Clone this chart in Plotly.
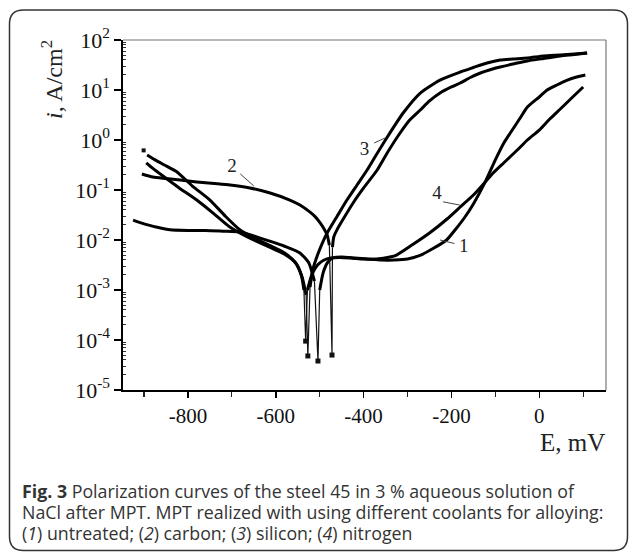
import plotly.graph_objects as go

# ---------------- data (E in mV, i in A/cm^2) ----------------
# Curve 1 - untreated
c1_cath_E = [-925, -900, -870, -841, -800, -760, -720, -682, -650, -614, -580, -545, -525, -512]
c1_cath_i = [0.025, 0.021, 0.018, 0.016, 0.0155, 0.0155, 0.015, 0.0145, 0.012, 0.0095, 0.0075, 0.0055, 0.0035, 0.0015]
c1_ecorr, c1_imin = -504, 3.8e-5
c1_anod_E = [-500, -492, -482, -470, -450, -420, -390, -360, -330, -300, -270, -240, -211, -190, -170, -150, -123,
             -100, -80, -66, -45, -27, 0, 18, 40, 64, 85, 105]
c1_anod_i = [0.001, 0.00224, 0.00355, 0.00437, 0.00457, 0.00437, 0.00417, 0.00398, 0.00398, 0.00417, 0.005, 0.0069,
             0.01, 0.0166, 0.0282, 0.0525, 0.145, 0.4, 0.89, 1.38, 2.63, 4.57, 7.24, 10, 12.6, 15.8, 18.2, 20]

# Curve 2 - carbon
c2_cath_E = [-905, -880, -850, -818, -780, -740, -704, -659, -613, -568, -545, -522, -510, -499, -490, -483, -478]
c2_cath_i = [0.209, 0.182, 0.17, 0.158, 0.145, 0.135, 0.126, 0.11, 0.087, 0.063, 0.05, 0.036, 0.029, 0.022,
             0.0166, 0.0126, 0.0079]
c2_ecorr, c2_imin = -472, 5e-5
c2_anod_E = [-471, -468, -461, -445, -424, -400, -369, -345, -317, -295, -271, -250, -226, -200, -180, -157, -134,
             -110, -89, -60, -27, 10, 48, 80, 109]
c2_anod_i = [0.0072, 0.0115, 0.0158, 0.0275, 0.055, 0.11, 0.251, 0.575, 1.38, 2.51, 3.98, 6.03, 8.7, 11.5, 13.8,
             17.8, 21.9, 25.7, 28.8, 33.1, 38, 42.7, 47.9, 51.3, 55]

# Curve 3 - silicon
c3_start_E, c3_start_i = -901, 0.62
c3_cath_E = [-893, -875, -855, -825, -790, -750, -715, -682, -650, -614, -580, -555, -540, -531]
c3_cath_i = [0.5, 0.4, 0.32, 0.23, 0.12, 0.063, 0.03, 0.016, 0.011, 0.0078, 0.0055, 0.0035, 0.0018, 0.0008]
c3_ecorr, c3_imin = -527, 4.8e-5
c3_anod_E = [-522, -516, -505, -495, -483, -460, -438, -415, -392, -370, -346, -310, -271, -226, -180, -150, -119,
             -89, -60, -27, 10, 48, 80, 109]
c3_anod_i = [0.00115, 0.0025, 0.005, 0.0083, 0.0138, 0.0302, 0.063, 0.126, 0.251, 0.525, 1.15, 3.47, 8.7, 15.8,
             22.9, 28.2, 34.7, 39.8, 41.7, 43.7, 47.9, 50.1, 52.5, 55]

# Curve 4 - nitrogen
c4_cath_E = [-895, -880, -857, -820, -780, -740, -704, -660, -614, -580, -555, -542, -536]
c4_cath_i = [0.35, 0.27, 0.19, 0.11, 0.063, 0.033, 0.018, 0.011, 0.0072, 0.0052, 0.0035, 0.002, 0.001]
c4_ecorr, c4_imin = -532, 9.5e-5
c4_anod_E = [-528, -518, -505, -490, -475, -455, -430, -400, -370, -340, -325, -290, -250, -210, -180, -150, -123,
             -105, -80, -50, -27, 0, 24, 48, 75, 100]
c4_anod_i = [0.001, 0.002, 0.00316, 0.00398, 0.00437, 0.00447, 0.00437, 0.00417, 0.00417, 0.00457, 0.005, 0.0079,
             0.0138, 0.0263, 0.0457, 0.0794, 0.145, 0.219, 0.355, 0.63, 1.0, 1.58, 2.63, 4.17, 7.08, 11.5]

# curve labels and leader lines
label_text = ["1", "2", "3", "4"]
label_E = [-172, -700, -398, -233]
label_i = [0.0072, 0.29, 0.63, 0.083]
leader_E = [[-226, -193], [-681, -650], [-376, -351], [-219, -181]]
leader_i = [[0.0100, 0.0085], [0.21, 0.12], [0.87, 1.10], [0.058, 0.050]]

y_tick_vals = [1e-5, 1e-4, 1e-3, 1e-2, 1e-1, 1e0, 1e1, 1e2]
y_tick_text = ["10<sup>-5</sup>", "10<sup>-4</sup>", "10<sup>-3</sup>", "10<sup>-2</sup>",
               "10<sup>-1</sup>", "10<sup>0</sup>", "10<sup>1</sup>", "10<sup>2</sup>"]
x_tick_vals = [-800, -600, -400, -200, 0]
x_tick_text = ["-800", "-600", "-400", "-200", "0"]

caption_lines = [
    "<b>Fig. 3</b> Polarization curves of the steel 45 in 3 % aqueous solution of",
    "NaCl after MPT. MPT realized with using different coolants for alloying:",
    "(<i>1</i>) untreated; (<i>2</i>) carbon; (<i>3</i>) silicon; (<i>4</i>) nitrogen",
]

# ---------------- figure ----------------
W, H = 630, 552
L, R, T, B = 123, 24, 40, 162
PW, PH = W - L - R, H - T - B


def X(px):
    return (px - L) / PW


def Y(py):
    return (H - B - py) / PH


SERIF = "Liberation Serif, Times New Roman, serif"
SANS = "Open Sans, Noto Sans, sans-serif"

fig = go.Figure()

curves = [
    (c1_cath_E, c1_cath_i, c1_ecorr, c1_imin, c1_anod_E, c1_anod_i),
    (c2_cath_E, c2_cath_i, c2_ecorr, c2_imin, c2_anod_E, c2_anod_i),
    (c3_cath_E, c3_cath_i, c3_ecorr, c3_imin, c3_anod_E, c3_anod_i),
    (c4_cath_E, c4_cath_i, c4_ecorr, c4_imin, c4_anod_E, c4_anod_i),
]

for cE, ci, ec, imin, aE, ai in curves:
    # thin spike down to the corrosion potential
    fig.add_trace(go.Scatter(x=[cE[-1], ec, aE[0]], y=[ci[-1], imin, ai[0]], mode="lines",
                             line=dict(color="#111", width=1.2), hoverinfo="skip"))
    fig.add_trace(go.Scatter(x=[ec], y=[imin], mode="markers",
                             marker=dict(symbol="square", size=5, color="#111"), hoverinfo="skip"))
    fig.add_trace(go.Scatter(x=cE, y=ci, mode="lines", line=dict(color="#000", width=3, shape="spline",
                                                                 smoothing=0.6), hoverinfo="skip"))
    fig.add_trace(go.Scatter(x=aE, y=ai, mode="lines", line=dict(color="#000", width=3, shape="spline",
                                                                 smoothing=0.6), hoverinfo="skip"))

# start dot of curve 3
fig.add_trace(go.Scatter(x=[c3_start_E], y=[c3_start_i], mode="markers",
                         marker=dict(symbol="square", size=4, color="#111"), hoverinfo="skip"))

for lx, ly in zip(leader_E, leader_i):
    fig.add_trace(go.Scatter(x=lx, y=ly, mode="lines", line=dict(color="#444", width=1), hoverinfo="skip"))

fig.add_trace(go.Scatter(x=label_E, y=label_i, mode="text", text=label_text,
                         textfont=dict(family=SERIF, size=19, color="#222"), hoverinfo="skip"))

minor_vals = [m * 10 ** e for e in range(-5, 2) for m in range(2, 10)]

fig.update_xaxes(range=[-948, 152], tickmode="array", tickvals=x_tick_vals, ticktext=x_tick_text,
                 ticks="outside", ticklen=6, tickwidth=1.5, tickcolor="#000",
                 minor=dict(tickmode="array", tickvals=[-900, -700, -500, -300, -100, 100],
                            ticks="outside", ticklen=5, tickwidth=1.2, tickcolor="#222"),
                 showline=True, linecolor="#000", linewidth=1.6, showgrid=False, zeroline=False,
                 tickfont=dict(family=SERIF, size=21, color="#111"))
fig.update_yaxes(type="log", range=[-5, 2], tickmode="array", tickvals=y_tick_vals, ticktext=y_tick_text,
                 ticks="outside", ticklen=7, tickwidth=1.5, tickcolor="#000",
                 minor=dict(tickmode="array", tickvals=minor_vals, ticks="inside", ticklen=3,
                            tickwidth=1, tickcolor="#333"),
                 showline=True, linecolor="#000", linewidth=1.6, showgrid=False, zeroline=False,
                 tickfont=dict(family=SERIF, size=22, color="#111"))

shapes = [
    dict(type="line", xref="paper", yref="paper", x0=0, y0=1, x1=1, y1=1, line=dict(color="#777", width=1.2)),
    dict(type="line", xref="paper", yref="paper", x0=1, y0=0, x1=1, y1=1, line=dict(color="#777", width=1.2)),
    dict(type="line", xref="paper", yref="paper", x0=X(115), y0=0, x1=0, y1=0, line=dict(color="#000", width=1.6)),
]
x0, x1, y0, y1, r = 9.5, 627.5, 10, 550.5, 14
path = (f"M {X(x0 + r)},{Y(y0)} L {X(x1 - r)},{Y(y0)} Q {X(x1)},{Y(y0)} {X(x1)},{Y(y0 + r)} "
        f"L {X(x1)},{Y(y1 - r)} Q {X(x1)},{Y(y1)} {X(x1 - r)},{Y(y1)} "
        f"L {X(x0 + r)},{Y(y1)} Q {X(x0)},{Y(y1)} {X(x0)},{Y(y1 - r)} "
        f"L {X(x0)},{Y(y0 + r)} Q {X(x0)},{Y(y0)} {X(x0 + r)},{Y(y0)} Z")
shapes.append(dict(type="path", xref="paper", yref="paper", path=path, line=dict(color="#333", width=1.5)))

annotations = [
    dict(xref="paper", yref="paper", x=X(52), y=Y(80), text="<i>i</i>, A/cm<sup>2</sup>", textangle=-90,
         showarrow=False, font=dict(family=SERIF, size=24, color="#222"), xanchor="center", yanchor="middle"),
    dict(xref="paper", yref="paper", x=X(572), y=Y(442), text="E, mV", showarrow=False,
         font=dict(family=SERIF, size=25, color="#222"), xanchor="center", yanchor="middle"),
]
for k, line in enumerate(caption_lines):
    annotations.append(dict(xref="paper", yref="paper", x=X(21), y=Y(491 + 21 * k), text=line,
                            showarrow=False, xanchor="left", yanchor="middle", borderpad=0,
                            font=dict(family=SANS, size=17.8, color="#333")))

fig.update_layout(width=W, height=H, margin=dict(l=L, r=R, t=T, b=B, pad=0),
                  paper_bgcolor="white", plot_bgcolor="white", showlegend=False,
                  shapes=shapes, annotations=annotations, hovermode=False)

fig.write_html("out.html", config={"displayModeBar": False, "staticPlot": True},
               post_script="document.body.style.margin='0px';document.body.style.padding='0px';")
